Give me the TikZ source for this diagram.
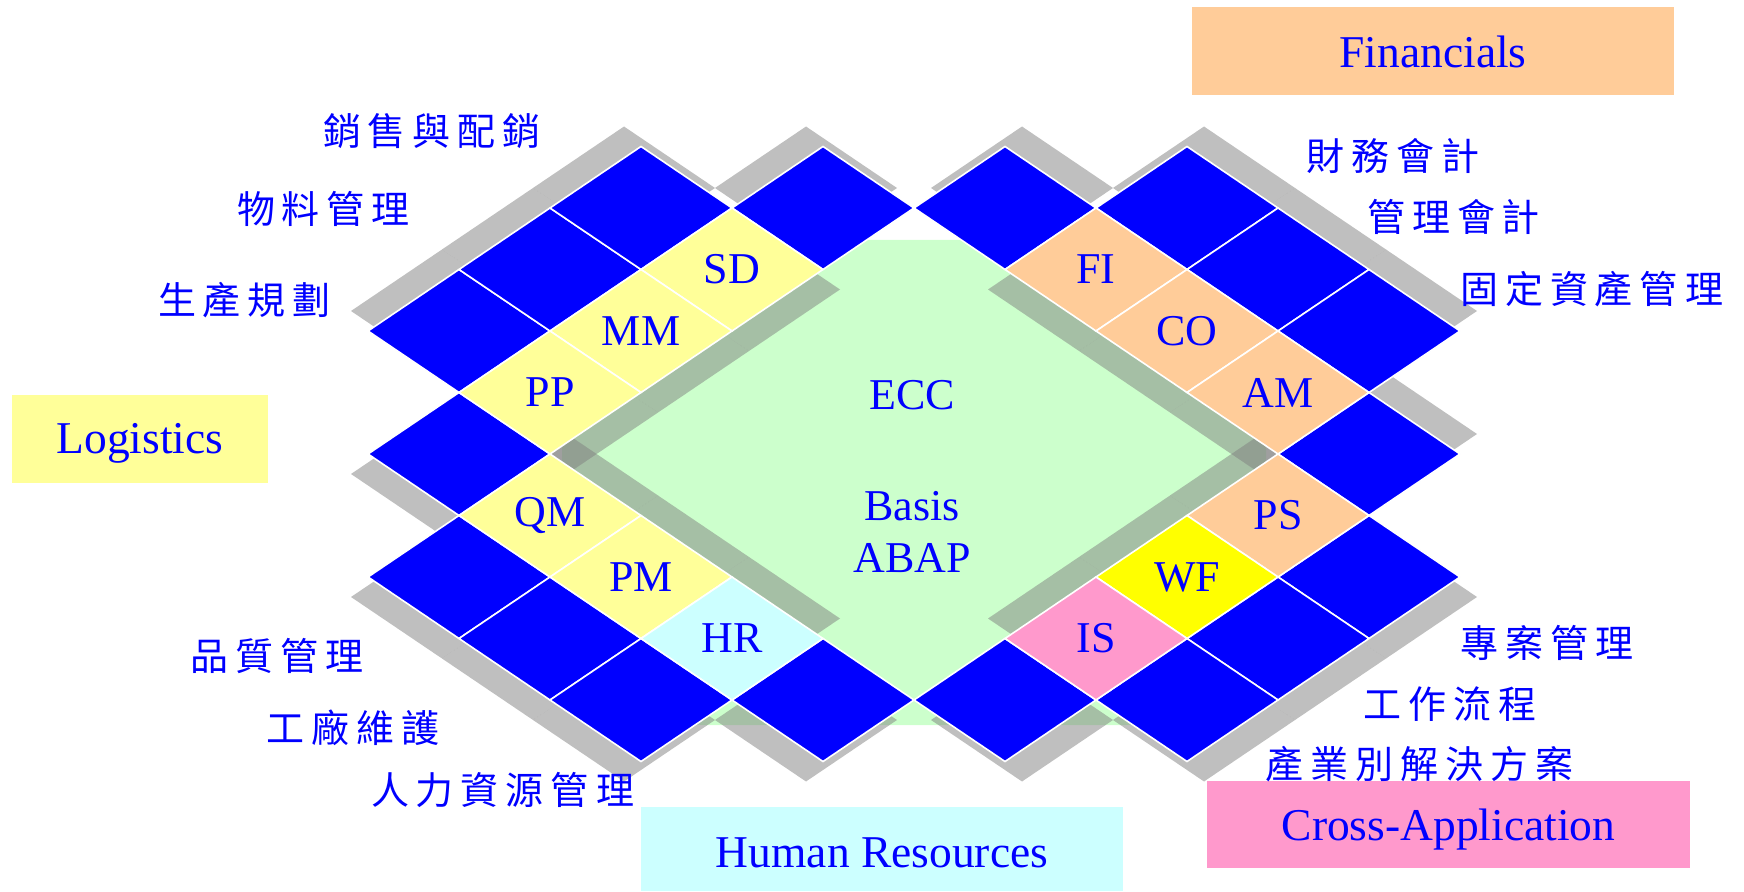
\documentclass[tikz,border=0pt]{standalone}
\usepackage{fontspec}
\setmainfont{Liberation Serif}
\newfontfamily\cjk{Noto Sans CJK TC}
\definecolor{tblue}{HTML}{0000FF}
\definecolor{ylw}{HTML}{FFFF99}
\definecolor{pch}{HTML}{FFCC99}
\definecolor{cyn}{HTML}{CCFFFF}
\definecolor{pnk}{HTML}{FF99CC}
\definecolor{wfy}{HTML}{FFFF00}
\definecolor{grn}{HTML}{CCFFCC}
\definecolor{shg}{HTML}{808080}
\newcommand\gp{\hspace{3.5pt}}
\newcommand\tile[3]{\path[#1] (#2-.5,#3-.5) -- (#2+.5,#3-.5) -- (#2+.5,#3+.5) -- (#2-.5,#3+.5) -- cycle;}
\tikzset{
  tileb/.style={fill=tblue,draw=white,line width=0.8pt},
  tilec/.style={fill=#1,draw=white,line width=0.8pt},
  shad/.style={fill=shg,fill opacity=0.5},
  shUL/.style={xshift=-8.5pt,yshift=10pt},
  shUR/.style={xshift=8.5pt,yshift=10pt},
  shDL/.style={xshift=-8.5pt,yshift=-10pt},
  shDR/.style={xshift=8.5pt,yshift=-10pt},
  lab/.style={text=tblue,font=\fontsize{22pt}{26pt}\selectfont,inner sep=0pt},
  groupbox/.style={draw=none,inner sep=0pt},
  boxlab/.style={text=tblue,font=\fontsize{22.75pt}{26pt}\selectfont,inner sep=0pt},
  cjklab/.style={text=tblue,font=\cjk\fontsize{19pt}{21pt}\selectfont,inner sep=0pt}
}
\begin{document}
\begin{tikzpicture}[x=0.5pt,y=-0.5pt]
\useasboundingbox (0,0) rectangle (1744,892);
% ECC background
\fill[grn] (562,240) -- (1266,240) -- (1266,708) -- (1241,725) -- (587,725) -- (562,708) -- cycle;
\begin{scope}[shift={(914,454)},x={(45.5pt,-30.75pt)},y={(45.5pt,30.75pt)}]
% ---- shadows ----
% top-left side
\tile{shad,shUL}{-3.5}{-1.5}\tile{shad,shUL}{-3.5}{-0.5}\tile{shad,shUL}{-3.5}{0.5}\tile{shad,shUL}{-2.5}{1.5}
\tile{shad,shDR}{-2.5}{-1.5}\tile{shad,shDR}{-2.5}{-0.5}\tile{shad,shDR}{-2.5}{0.5}
% bottom-left side
\tile{shad,shDL}{-2.5}{-2.5}\tile{shad,shDL}{-1.5}{-3.5}\tile{shad,shDL}{-0.5}{-3.5}\tile{shad,shDL}{0.5}{-3.5}\tile{shad,shDL}{1.5}{-2.5}
\tile{shad,shUR}{-1.5}{-2.5}\tile{shad,shUR}{-0.5}{-2.5}\tile{shad,shUR}{0.5}{-2.5}
% top-right side
\tile{shad,shUR}{-1.5}{2.5}\tile{shad,shUR}{-0.5}{3.5}\tile{shad,shUR}{0.5}{3.5}\tile{shad,shUR}{1.5}{3.5}\tile{shad,shUR}{2.5}{2.5}
\tile{shad,shDL}{-0.5}{2.5}\tile{shad,shDL}{0.5}{2.5}\tile{shad,shDL}{1.5}{2.5}
% bottom-right side
\tile{shad,shDR}{3.5}{1.5}\tile{shad,shDR}{3.5}{0.5}\tile{shad,shDR}{3.5}{-0.5}\tile{shad,shDR}{2.5}{-1.5}
\tile{shad,shUL}{2.5}{1.5}\tile{shad,shUL}{2.5}{0.5}\tile{shad,shUL}{2.5}{-0.5}
% ---- blue tiles ----
\tile{tileb}{-3.5}{-1.5}\tile{tileb}{-3.5}{-0.5}\tile{tileb}{-3.5}{0.5}\tile{tileb}{-2.5}{1.5}
\tile{tileb}{-2.5}{-2.5}\tile{tileb}{-1.5}{-3.5}\tile{tileb}{-0.5}{-3.5}\tile{tileb}{0.5}{-3.5}\tile{tileb}{1.5}{-2.5}
\tile{tileb}{-1.5}{2.5}\tile{tileb}{-0.5}{3.5}\tile{tileb}{0.5}{3.5}\tile{tileb}{1.5}{3.5}\tile{tileb}{2.5}{2.5}
\tile{tileb}{3.5}{1.5}\tile{tileb}{3.5}{0.5}\tile{tileb}{3.5}{-0.5}\tile{tileb}{2.5}{-1.5}
% ---- module tiles ----
\tile{tilec=ylw}{-2.5}{0.5}\tile{tilec=ylw}{-2.5}{-0.5}\tile{tilec=ylw}{-2.5}{-1.5}
\tile{tilec=ylw}{-1.5}{-2.5}\tile{tilec=ylw}{-0.5}{-2.5}\tile{tilec=cyn}{0.5}{-2.5}
\tile{tilec=pch}{-0.5}{2.5}\tile{tilec=pch}{0.5}{2.5}\tile{tilec=pch}{1.5}{2.5}
\tile{tilec=pch}{2.5}{1.5}\tile{tilec=wfy}{2.5}{0.5}\tile{tilec=pnk}{2.5}{-0.5}
% ---- module labels ----
\node[lab] (sd) at (-2.5,0.5) {SD};
\node[lab] (mm) at (-2.5,-0.5) {MM};
\node[lab] (pp) at (-2.5,-1.5) {PP};
\node[lab] (qm) at (-1.5,-2.5) {QM};
\node[lab] (pm) at (-0.5,-2.5) {PM};
\node[lab] (hr) at (0.5,-2.5) {HR};
\node[lab] (fi) at (-0.5,2.5) {FI};
\node[lab] (co) at (0.5,2.5) {CO};
\node[lab] (am) at (1.5,2.5) {AM};
\node[lab] (ps) at (2.5,1.5) {PS};
\node[lab] (wf) at (2.5,0.5) {WF};
\node[lab] (is) at (2.5,-0.5) {IS};
\end{scope}
% ---- centre texts ----
\node[lab] (ecc) at (912,395) {ECC};
\node[lab] (basis) at (912,506) {Basis};
\node[lab] (abap) at (912,558) {ABAP};
% ---- group boxes ----
\node[groupbox,fill=ylw,minimum width=128pt,minimum height=44pt] (logi) at (140,439) {};
\node[groupbox,fill=pch,minimum width=241pt,minimum height=44pt] (fin) at (1433,51) {};
\node[groupbox,fill=cyn,minimum width=241pt,minimum height=42pt] (hum) at (882,849) {};
\node[groupbox,fill=pnk,minimum width=241.5pt,minimum height=43.5pt] (cross) at (1448.5,824.5) {};
\node[boxlab] (logit) at (140,443) {Logistics};
\node[boxlab] (fint) at (1433,52) {Financials};
\node[boxlab] (humt) at (882,853) {Human Resources};
\node[boxlab] (crosst) at (1448.5,830) {Cross-Application};
% ---- Chinese descriptions ----
\node[cjklab] (c1) at (432,131) {銷\gp 售\gp 與\gp 配\gp 銷};
\node[cjklab] (c2) at (323.5,209) {物\gp 料\gp 管\gp 理};
\node[cjklab] (c3) at (244.5,300) {生\gp 產\gp 規\gp 劃};
\node[cjklab] (c4) at (277,656) {品\gp 質\gp 管\gp 理};
\node[cjklab] (c5) at (353,728) {工\gp 廠\gp 維\gp 護};
\node[cjklab] (c6) at (502.5,790) {人\gp 力\gp 資\gp 源\gp 管\gp 理};
\node[cjklab] (c7) at (1393,156) {財\gp 務\gp 會\gp 計};
\node[cjklab] (c8) at (1453.5,217) {管\gp 理\gp 會\gp 計};
\node[cjklab] (c9) at (1591.5,289) {固\gp 定\gp 資\gp 產\gp 管\gp 理};
\node[cjklab] (c10) at (1547,643) {專\gp 案\gp 管\gp 理};
\node[cjklab] (c11) at (1450,704) {工\gp 作\gp 流\gp 程};
\node[cjklab] (c12) at (1419.5,764) {產\gp 業\gp 別\gp 解\gp 決\gp 方\gp 案};
\end{tikzpicture}
\end{document}
